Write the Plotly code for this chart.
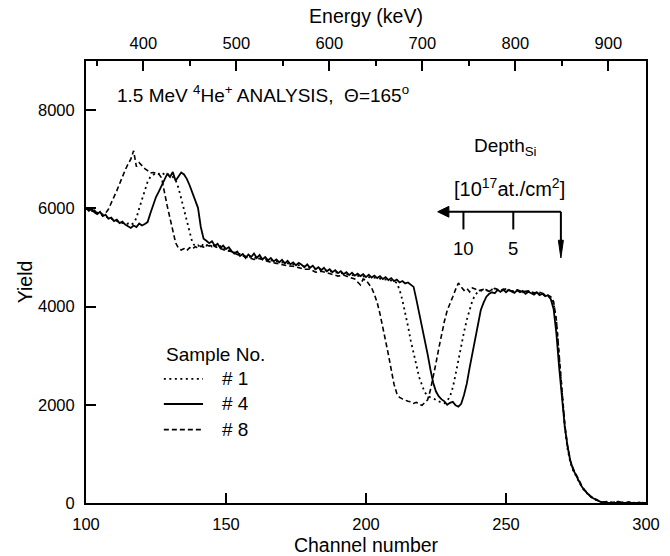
import plotly.graph_objects as go

# ---------------- data ----------------
# Sample #1 (dotted)
ch1 = [100,101,102,103,104,105,106,107,108,109,110,111,112,113,114,115,116,117,118,119,
       120,121,122,123,124,125,126,127,128,129,130,131,132,133,134,135,136,137,138,139,
       140,141,142,143,144,145,146,147,148,149,150,152,154,156,158,160,162,164,166,168,
       170,172,174,176,178,180,182,184,186,188,190,192,194,196,198,200,202,204,206,208,
       210,211,212,213,214,215,216,217,218,219,220,221,222,223,224,225,226,227,228,229,
       230,231,232,233,234,235,236,237,238,239,240,241,242,244,246,248,250,252,254,256,
       258,260,262,264,266,267,268,269,270,271,272,273,274,275,276,277,278,279,280,281,
       282,283,284,285,286,288,290,292,294,296,298,300]
y1 = [5990,5970,5950,5930,5900,5890,5850,5840,5800,5790,5760,5740,5710,5700,5680,5690,5660,5700,5800,6000,
      6180,6380,6540,6640,6690,6720,6700,6730,6690,6710,6660,6640,6580,6420,6200,5980,5760,5500,5300,5230,
      5250,5210,5280,5240,5270,5220,5250,5200,5230,5170,5190,5110,5090,5040,5020,5000,4990,4970,4950,4930,
      4900,4880,4860,4850,4820,4790,4770,4750,4730,4700,4680,4660,4650,4630,4620,4610,4590,4580,4560,4540,
      4520,4480,4340,4130,3880,3600,3300,3050,2800,2560,2400,2250,2190,2150,2130,2100,2080,2040,2030,2080,
      2170,2350,2620,2920,3220,3480,3730,3950,4120,4240,4300,4320,4350,4330,4360,4320,4340,4300,4330,4290,
      4310,4260,4270,4230,4180,4080,3700,2950,2250,1550,1100,820,660,540,430,330,250,185,135,95,
      65,40,25,12,20,8,25,5,15,0,10,0]

# Sample #4 (solid)
ch4 = [100,101,102,103,104,105,106,107,108,109,110,111,112,113,114,115,116,117,118,119,
       120,121,122,123,124,125,126,127,128,129,130,131,132,133,134,135,136,137,138,139,
       140,141,142,143,144,145,146,147,148,149,150,151,152,153,154,155,156,157,158,159,
       160,161,162,163,164,165,166,167,168,169,170,171,172,173,174,175,176,177,178,179,
       180,181,182,183,184,185,186,187,188,189,190,191,192,193,194,195,196,197,198,199,
       200,201,202,203,204,205,206,207,208,209,210,211,212,213,214,215,216,217,218,219,
       220,221,222,223,224,225,226,227,228,229,230,231,232,233,234,235,236,237,238,239,
       240,241,242,243,244,245,246,247,248,249,250,251,252,253,254,255,256,257,258,259,
       260,261,262,263,264,265,266,267,268,269,270,271,272,273,274,275,276,277,278,279,
       280,281,282,283,284,285,286,288,290,292,294,296,298,300]
y4 = [6010,5950,5990,5920,5880,5930,5840,5870,5790,5810,5740,5770,5700,5730,5670,5640,5600,5650,5620,5690,
      5650,5680,5720,5900,6080,6230,6340,6450,6580,6700,6640,6740,6560,6650,6730,6690,6600,6470,6310,6170,
      6010,5620,5380,5340,5290,5330,5240,5280,5190,5240,5170,5210,5130,5080,5120,5030,5070,4990,5060,5010,
      5080,4990,5050,4960,5010,4940,4990,4920,4960,4900,4950,4880,4930,4860,4900,4840,4890,4850,4800,4860,
      4790,4830,4760,4800,4740,4790,4720,4760,4700,4740,4680,4720,4660,4700,4640,4690,4630,4670,4620,4660,
      4600,4650,4590,4630,4580,4620,4560,4600,4540,4580,4520,4550,4490,4520,4470,4490,4440,4400,4140,3880,
      3600,3320,3030,2720,2450,2270,2170,2110,2070,2000,2040,2060,1990,1960,2020,2200,2430,2750,3060,3380,
      3680,3930,4080,4200,4260,4290,4270,4340,4300,4350,4290,4340,4310,4280,4330,4290,4320,4260,4300,4270,
      4240,4290,4230,4260,4210,4230,4150,3950,3450,2750,2150,1550,1150,850,680,560,440,340,260,190,
      140,100,65,40,20,10,5,0,0,0,0,0,0,0]

# Sample #8 (dashed)
ch8 = [100,101,102,103,104,105,106,107,108,109,110,111,112,113,114,115,116,117,118,119,
       120,121,122,123,124,125,126,127,128,129,130,131,132,133,134,135,136,137,138,139,
       140,141,142,143,144,145,146,148,150,152,154,156,158,160,162,164,166,168,170,172,
       174,176,178,180,182,184,186,188,190,192,194,196,198,199,200,201,202,203,204,205,
       206,207,208,209,210,211,212,213,214,215,216,217,218,219,220,221,222,223,224,225,
       226,227,228,229,230,231,232,233,234,235,236,237,238,239,240,242,244,246,248,250,
       252,254,256,258,260,262,264,266,267,268,269,270,271,272,273,274,275,276,277,278,
       279,280,281,282,283,284,285,286,288,290,292,294,296,298,300]
y8 = [6000,5980,5940,5960,5900,5920,5870,5900,5980,6100,6230,6360,6500,6650,6780,6900,7000,7170,6850,6930,
      6860,6810,6770,6720,6730,6710,6700,6620,6300,6050,5800,5550,5300,5190,5150,5180,5140,5200,5170,5220,
      5190,5230,5210,5260,5230,5270,5220,5180,5140,5120,5060,5030,4990,4960,4980,4940,4900,4880,4850,4830,
      4820,4790,4760,4760,4700,4720,4690,4650,4620,4640,4600,4560,4440,4560,4540,4470,4380,4250,4080,3850,
      3600,3300,3020,2720,2420,2230,2150,2120,2090,2070,2060,2030,2050,2010,1990,2040,2100,2300,2550,2850,
      3150,3450,3700,3920,4080,4200,4350,4480,4400,4330,4370,4300,4380,4360,4320,4350,4310,4370,4330,4360,
      4310,4340,4300,4320,4280,4290,4250,4200,4100,3720,3000,2300,1600,1150,860,700,580,460,360,270,
      200,150,110,75,50,30,18,30,10,30,5,20,0,10,0]

energy_range = [338.4, 940.5]
channel_ticks = [100, 150, 200, 250, 300]
yield_ticks = [0, 2000, 4000, 6000, 8000]
energy_ticks = [400, 500, 600, 700, 800, 900]
depth_ticks = [10, 5]
depth_tick_channels = [234.8, 252.6]
sample_names = ["# 1", "# 4", "# 8"]

FONT = "Liberation Sans, Arial, Helvetica, sans-serif"
DOT = "2px,3.5px"
DASH = "5px,3px"
styles = [dict(width=1.8, dash=DOT), dict(width=1.8, dash="solid"), dict(width=1.6, dash=DASH)]

fig = go.Figure()
for xs, ys, nm, st in zip([ch1, ch4, ch8], [y1, y4, y8], sample_names, styles):
    fig.add_trace(go.Scatter(x=xs, y=ys, mode="lines", name=nm, showlegend=False,
                             line=dict(color="black", **st)))
# invisible trace to activate the energy axis
fig.add_trace(go.Scatter(x=energy_range, y=[-1000, -1000], xaxis="x2", mode="markers",
                         marker=dict(opacity=0), showlegend=False, hoverinfo="skip"))

axis_common = dict(showline=True, linecolor="black", linewidth=2, ticks="inside",
                   tickcolor="black", tickwidth=2, showgrid=False, zeroline=False,
                   automargin=False,
                   tickfont=dict(family=FONT, size=16.5, color="black"))

fig.update_layout(
    width=670, height=556,
    margin=dict(l=86, r=24, t=61, b=53),
    paper_bgcolor="white", plot_bgcolor="white",
    font=dict(family=FONT, color="black", size=16),
    showlegend=False,
    xaxis=dict(range=[100, 300], tickvals=channel_ticks, ticklen=10, ticklabelstandoff=5,
               **axis_common,
               title=dict(text="Channel number", font=dict(family=FONT, size=19.5), standoff=8)),
    xaxis2=dict(range=energy_range, overlaying="x", side="top", anchor="y",
                tickvals=energy_ticks, ticklen=10, ticklabelstandoff=3,
                minor=dict(ticks="inside", dtick=50, tick0=350, ticklen=5, tickwidth=2, tickcolor="black"),
                **axis_common,
                title=dict(text="Energy (keV)", font=dict(family=FONT, size=19.5), standoff=6)),
    yaxis=dict(range=[0, 9000], tickvals=yield_ticks, ticklen=10, mirror=True, **axis_common,
               ticklabelstandoff=6,
               title=dict(text="Yield", font=dict(family=FONT, size=19.5), standoff=0)),
)

def note(x, y, text, size, xanchor="left", xref="paper", yref="paper"):
    fig.add_annotation(x=x, y=y, xref=xref, yref=yref, showarrow=False,
                       xanchor=xanchor, yanchor="middle", text=text,
                       font=dict(family=FONT, size=size, color="black"))

# Header text
note(0.052, 0.925, "1.5 MeV <sup>4</sup>He<sup>+</sup> ANALYSIS,  \u0398=165<sup>o</sup>", 19)

# Depth scale annotation
note(0.689, 0.805, "Depth<sub>Si</sub>", 19)
note(0.654, 0.713, "[10<sup>17</sup>at./cm<sup>2</sup>]", 20)

# depth arrow (drawn in data coordinates)
arrow_y = 5930
fig.add_shape(type="line", x0=227.5, x1=269.6, y0=arrow_y, y1=arrow_y,
              line=dict(color="black", width=2))
fig.add_shape(type="line", x0=269.6, x1=269.6, y0=arrow_y, y1=5150,
              line=dict(color="black", width=2))
for xt in depth_tick_channels:
    fig.add_shape(type="line", x0=xt, x1=xt, y0=arrow_y, y1=5570,
                  line=dict(color="black", width=2))
fig.add_shape(type="path", path="M 225.6 %d L 229.6 %d L 229.6 %d Z" % (arrow_y, arrow_y + 110, arrow_y - 110),
              fillcolor="black", line=dict(color="black", width=1))
fig.add_shape(type="path", path="M 269.6 4990 L 270.5 5350 L 268.7 5350 Z",
              fillcolor="black", line=dict(color="black", width=1))
for xt, lab in zip(depth_tick_channels, depth_ticks):
    note(xt, 5190, str(lab), 18.5, xanchor="center", xref="x", yref="y")

# Manual legend
note(0.139, 0.335, "Sample No.", 19)
row_y = [0.281, 0.224, 0.166]
for ry, nm, st in zip(row_y, sample_names, styles):
    fig.add_shape(type="line", xref="paper", yref="paper", x0=0.139, x1=0.209, y0=ry, y1=ry,
                  line=dict(color="black", **st))
    note(0.239, ry, nm, 19)

fig.write_html("out.html")
